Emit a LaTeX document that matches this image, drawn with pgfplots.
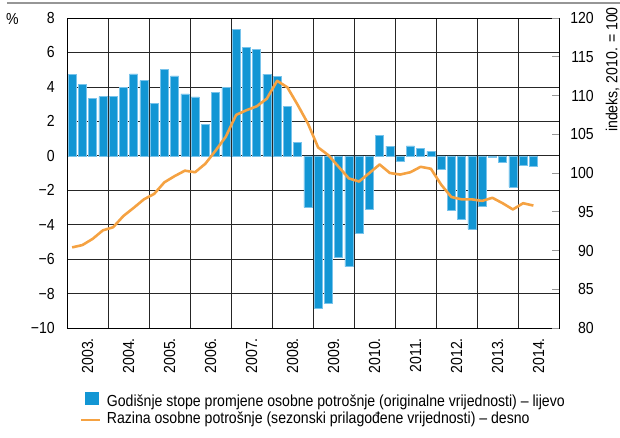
\documentclass[border=0pt]{standalone}
\usepackage{fontspec}
\setmainfont{Liberation Sans}[FakeStretch=0.88]
\usepackage{pgfplots}
\pgfplotsset{compat=1.18}
\usepackage{pgfplotstable}
\definecolor{barblue}{RGB}{18,150,212}
\definecolor{baredge}{RGB}{120,195,235}
\definecolor{lineorange}{RGB}{245,162,66}
\definecolor{rulegray}{RGB}{150,150,150}
\newcommand\cf{\fontsize{16}{19}\selectfont}

\pgfplotstableread{
x y
0.5 4.72
1.5 4.14
2.5 3.32
3.5 3.44
4.5 3.46
5.5 3.96
6.5 4.76
7.5 4.37
8.5 3.03
9.5 5.01
10.5 4.64
11.5 3.59
12.5 3.42
13.5 1.81
14.5 3.67
15.5 3.98
16.5 7.32
17.5 6.31
18.5 6.17
19.5 4.74
20.5 4.60
21.5 2.85
22.5 0.78
23.5 -3.00
24.5 -8.88
25.5 -8.57
26.5 -5.92
27.5 -6.44
28.5 -4.47
29.5 -3.10
30.5 1.17
31.5 0.56
32.5 -0.31
33.5 0.58
34.5 0.45
35.5 0.25
36.5 -0.79
37.5 -3.16
38.5 -3.68
39.5 -4.26
40.5 -2.91
41.5 -0.10
42.5 -0.39
43.5 -1.81
44.5 -0.54
45.5 -0.58
}\bardata

\pgfplotstableread{
x y
0.5 90.4
1.5 90.7
2.5 91.5
3.5 92.6
4.5 93.0
5.5 94.45
6.5 95.5
7.5 96.6
8.5 97.3
9.5 98.8
10.5 99.6
11.5 100.3
12.5 100.1
13.5 101.2
14.5 102.9
15.5 104.7
16.5 107.5
17.5 108.1
18.5 108.6
19.5 109.6
20.5 111.9
21.5 111.05
22.5 108.8
23.5 106.4
24.5 103.3
25.5 102.3
26.5 100.8
27.5 99.3
28.5 98.9
29.5 100.0
30.5 101.1
31.5 100.0
32.5 99.8
33.5 100.1
34.5 100.8
35.5 100.55
36.5 98.5
37.5 96.9
38.5 96.6
39.5 96.6
40.5 96.4
41.5 96.8
42.5 96.1
43.5 95.3
44.5 96.1
45.5 95.8
}\linedata

\begin{document}
\begin{tikzpicture}
\useasboundingbox (-67pt,-109pt) rectangle (553pt,328pt);
\draw[rulegray, line width=1.5pt] (-60pt,325pt) -- (553pt,325pt);
\begin{axis}[
  at={(0pt,0pt)}, anchor=south west,
  scale only axis, width=492pt, height=310pt,
  xmin=0, xmax=48, ymin=-10, ymax=8,
  xtick={0,4,...,48},
  xticklabels={2003.,2004.,2005.,2006.,2007.,2008.,2009.,2010.,2011.,2012.,2013.,2014.},
  x tick label as interval,
  ytick={-10,-8,...,8},
  yticklabels={−10,−8,−6,−4,−2,0,2,4,6,8},
  grid=major,
  major grid style={black!85, line width=0.7pt},
  major tick length=0pt,
  axis line style={black, line width=0.9pt},
  ticklabel style={font=\cf},
  yticklabel style={anchor=east, inner sep=0pt, xshift=-12pt},
  xticklabel style={anchor=east, inner sep=0pt, yshift=-10pt, rotate=90},
]
\addplot[ybar, bar width=0.78, bar shift=0pt, fill=barblue, draw=baredge, line width=0.5pt] table {\bardata};
\end{axis}
\begin{axis}[
  at={(0pt,0pt)}, anchor=south west,
  scale only axis, width=492pt, height=310pt,
  xmin=0, xmax=48, ymin=80, ymax=120,
  axis x line=none, axis y line*=right,
  ytick={80,85,...,120},
  /pgf/number format/assume math mode=true,
  tick align=inside,
  major tick length=7pt,
  tick style={rulegray, line width=1pt},
  axis line style={black, line width=0.9pt},
  yticklabel style={font=\cf, anchor=east, inner sep=0pt, xshift=35pt},
]
\addplot[lineorange, line width=2.6pt, line join=round] table {\linedata};
\end{axis}
\node[font=\cf, inner sep=0pt] at (-54.5pt,309pt) {\%};
\node[font=\cf, inner sep=0pt, rotate=90, anchor=east] at (545.5pt,321pt) {indeks, 2010. = 100};
\fill[barblue] (17.5pt,-77pt) rectangle (31.5pt,-63.7pt);
\node[anchor=base west, inner sep=0pt, font=\cf] at (39.7pt,-78.7pt) {Godišnje stope promjene osobne potrošnje (originalne vrijednosti) – lijevo};
\draw[lineorange, line width=2.6pt] (14pt,-92pt) -- (33pt,-92pt);
\node[anchor=base west, inner sep=0pt, font=\cf] at (39.7pt,-95.3pt) {Razina osobne potrošnje (sezonski prilagođene vrijednosti) – desno};
\end{tikzpicture}
\end{document}
